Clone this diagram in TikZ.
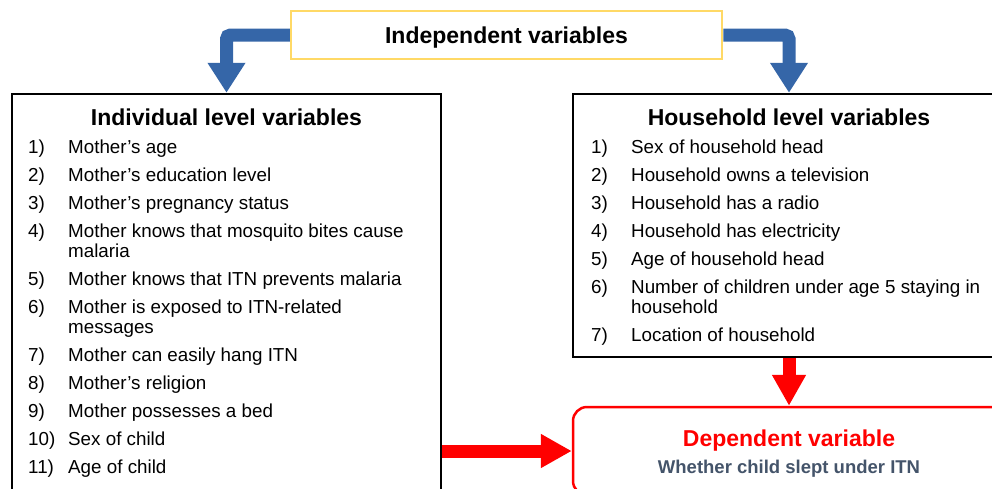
\documentclass[tikz,border=0pt]{standalone}
\usepackage{fontspec}
\setmainfont{Liberation Sans}
\usepackage{tikz}
\usetikzlibrary{arrows.meta, positioning, backgrounds}
\definecolor{itnyellow}{HTML}{FFD966}
\definecolor{itnblue}{HTML}{3566A8}
\definecolor{itnred}{HTML}{FF0000}
\definecolor{itnslate}{HTML}{44546A}

\begin{document}
\begin{tikzpicture}[x=1pt, y=-1pt,
    topbox/.style={draw=itnyellow, line width=2.5pt, fill=white, minimum width=431pt,
      minimum height=48pt, font=\fontsize{23}{26}\selectfont\bfseries,
      text height=17pt, text depth=1pt},
    listbox/.style={draw=black, line width=2.5pt, fill=white},
    depbox/.style={draw=itnred, line width=2.5pt, fill=white, rounded corners=14pt},
    boxtitle/.style={font=\fontsize{23}{26}\selectfont\bfseries, inner sep=0pt, anchor=base},
    listitem/.style={font=\fontsize{18.8}{20}\selectfont, anchor=base west, inner sep=0pt},
    bluearrow/.style={draw=itnblue, line width=13pt, rounded corners=4pt,
      -{Triangle[length=30pt, width=36pt]}},
    redarrow/.style={draw=itnred, line width=13pt, -{Triangle[length=31pt, width=32pt]}}]

  \useasboundingbox (0,0) rectangle (992,488);
  \clip (0,0) rectangle (992,488);

  \node[topbox] (indep) at (506.5,35) {Independent variables};
  \node[listbox, minimum width=429pt, minimum height=401pt] (indiv) at (226.5,294.5) {};
  \node[listbox, minimum width=432pt, minimum height=263pt] (house) at (789,225.5) {};
  \node[depbox, minimum width=432pt, minimum height=88pt] (dep) at (789,451) {};

  \node[boxtitle] (indivtitle) at (226.5,125.2) {Individual level variables};
  \node[boxtitle] (housetitle) at (789,125.2) {Household level variables};
  \node[boxtitle, text=itnred] (deptitle) at (789,446.2) {Dependent variable};
  \node[boxtitle, font=\fontsize{18.5}{20}\selectfont\bfseries, text=itnslate] (depnote)
    at (789,473.6) {Whether child slept under ITN};

  \foreach \n/\y/\txt in {1/153.5/{Mother’s age}, 2/181.5/{Mother’s education level},
      3/209.5/{Mother’s pregnancy status},
      4/237.5/{Mother knows that mosquito bites cause\\malaria},
      5/285.5/{Mother knows that ITN prevents malaria},
      6/313.5/{Mother is exposed to ITN-related\\messages},
      7/361.5/{Mother can easily hang ITN}, 8/389.5/{Mother’s religion},
      9/417.5/{Mother possesses a bed}, 10/445.5/{Sex of child}, 11/473.5/{Age of child}}
    \node[listitem] (indiv\n) at (28,\y) {\makebox[40pt][l]{\n)}\parbox[t]{370pt}{\txt}};

  \foreach \n/\y/\txt in {1/153.5/{Sex of household head},
      2/181.5/{Household owns a television}, 3/209.5/{Household has a radio},
      4/237.5/{Household has electricity}, 5/265.5/{Age of household head},
      6/293.5/{Number of children under age 5 staying in\\household},
      7/341.5/{Location of household}}
    \node[listitem] (house\n) at (591,\y) {\makebox[40pt][l]{\n)}\parbox[t]{370pt}{\txt}};

  \begin{scope}[on background layer]
    \draw[bluearrow] (indep.west) -- (indep.west -| indiv.north) -- (indiv.north);
    \draw[bluearrow] (indep.east) -- (indep.east -| house.north) -- (house.north);
    \draw[redarrow] (house.south) -- (dep.north);
    \draw[redarrow] (dep.west -| indiv.east) -- (dep.west);
  \end{scope}
\end{tikzpicture}
\end{document}
